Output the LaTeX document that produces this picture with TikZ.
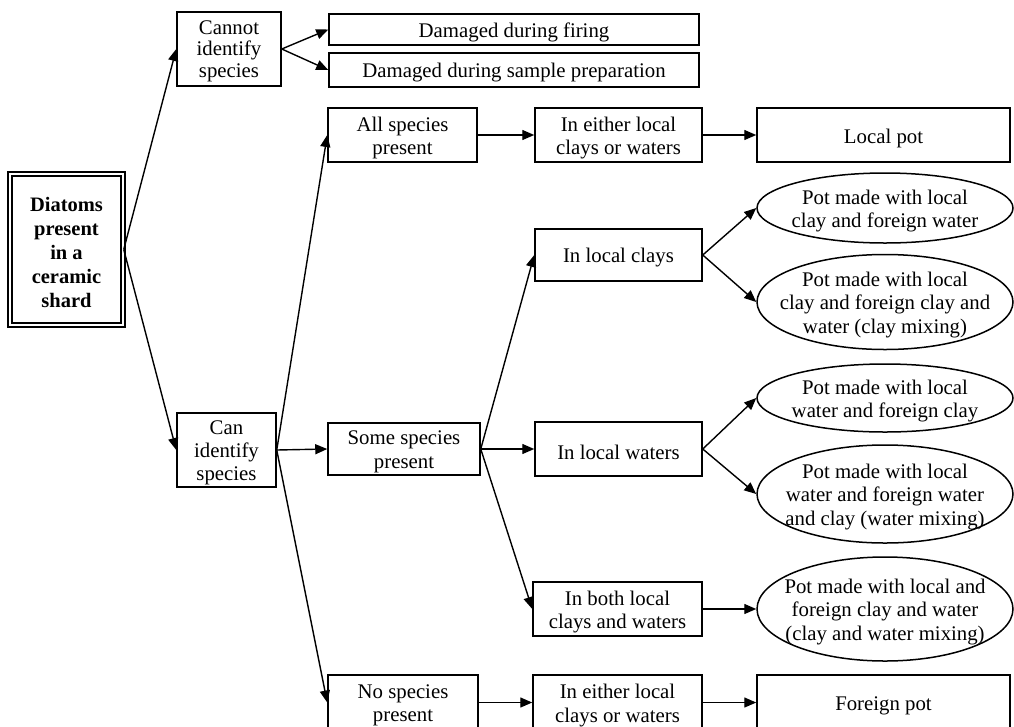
\documentclass[tikz,border=0pt]{standalone}
\usepackage{fontspec}
\setmainfont{Liberation Serif}
\usetikzlibrary{arrows.meta,shapes.geometric}
\begin{document}
\begin{tikzpicture}[x=1pt,y=-1pt,
  txt/.style={inner sep=0pt, align=center, yshift=-3pt, font=\fontsize{20.8}{23.5}\selectfont},
  box/.style={draw, line width=1.5pt, inner sep=0pt},
  oval/.style={draw, ellipse, line width=1.5pt, inner sep=0pt, minimum width=256pt},
  arr/.style={line width=1.4pt, -{Triangle[length=12pt,width=10pt]}}]
\clip (0,0) rectangle (1014,726);
\fill[white] (0,0) rectangle (1014,726);

% root
\node[box, double, double distance=2.2pt, minimum width=113pt, minimum height=151pt] (root) at (66.5,249.5) {};
\node[txt, font=\fontsize{20.5}{24}\selectfont\bfseries] at (root) {Diatoms\\present\\in a\\ceramic\\shard};

% first level
\node[box, minimum width=104pt, minimum height=74pt] (cannot) at (229,49) {};
\node[txt, yshift=1pt, font=\fontsize{20.8}{21.5}\selectfont] at (cannot) {Cannot\\identify\\species};
\node[box, minimum width=99pt, minimum height=74pt] (can) at (226.5,450) {};
\node[txt, font=\fontsize{20.8}{23}\selectfont] at (can) {Can\\identify\\species};

% damaged
\node[box, minimum width=370pt, minimum height=31pt] (fire) at (514,29.5) {};
\node[txt] at (fire) {Damaged during firing};
\node[box, minimum width=370pt, minimum height=34pt] (prep) at (514,70) {};
\node[txt] at (prep) {Damaged during sample preparation};

% species rows
\node[box, minimum width=149pt, minimum height=54pt] (all) at (402.5,135) {};
\node[txt] at (all) {All species\\present};
\node[box, minimum width=167pt, minimum height=54pt] (eitherA) at (618.5,135) {};
\node[txt] at (eitherA) {In either local\\clays or waters};
\node[box, minimum width=253pt, minimum height=54pt] (local) at (883.5,135) {};
\node[txt] at (local) {Local pot};

\node[box, minimum width=152pt, minimum height=52pt] (some) at (404,449) {};
\node[txt] at (some) {Some species\\present};
\node[box, minimum width=167pt, minimum height=52pt] (clays) at (618.5,255) {};
\node[txt] at (clays) {In local clays};
\node[box, minimum width=167pt, minimum height=54pt] (waters) at (618.5,449) {};
\node[txt] at (waters) {In local waters};
\node[box, minimum width=169pt, minimum height=54pt] (both) at (617.5,609) {};
\node[txt] at (both) {In both local\\clays and waters};

\node[box, minimum width=150pt, minimum height=55pt] (none) at (403,702.5) {};
\node[txt] at (none) {No species\\present};
\node[box, minimum width=169pt, minimum height=55pt] (eitherB) at (617.5,702.5) {};
\node[txt] at (eitherB) {In either local\\clays or waters};
\node[box, minimum width=253pt, minimum height=55pt] (foreign) at (883.5,702.5) {};
\node[txt] at (foreign) {Foreign pot};

% outcome ellipses
\node[oval, minimum height=70pt] (e1) at (885,208) {};
\node[txt] at (e1) {Pot made with local\\clay and foreign water};
\node[oval, minimum height=95pt] (e2) at (885,302) {};
\node[txt] at (e2) {Pot made with local\\clay and foreign clay and\\water (clay mixing)};
\node[oval, minimum height=68pt] (e3) at (885,398) {};
\node[txt] at (e3) {Pot made with local\\water and foreign clay};
\node[oval, minimum height=98pt] (e4) at (885,494) {};
\node[txt] at (e4) {Pot made with local\\water and foreign water\\and clay (water mixing)};
\node[oval, minimum height=104pt] (e5) at (885,609) {};
\node[txt] at (e5) {Pot made with local and\\foreign clay and water\\(clay and water mixing)};

% connectors
\draw[arr] (root.east) -- (cannot.west);
\draw[arr] (root.east) -- (can.west);
\draw[arr] (cannot.east) -- (fire.west);
\draw[arr] (cannot.east) -- (prep.west);
\draw[arr] (can.east) -- (all.west);
\draw[arr] (can.east) -- (some.west);
\draw[arr] (can.east) -- (none.west);
\draw[arr] (all.east) -- (eitherA.west);
\draw[arr] (eitherA.east) -- (local.west);
\draw[arr] (some.east) -- (clays.west);
\draw[arr] (some.east) -- (waters.west);
\draw[arr] (some.east) -- (both.west);
\draw[arr] (clays.east) -- (e1.west);
\draw[arr] (clays.east) -- (e2.west);
\draw[arr] (waters.east) -- (e3.west);
\draw[arr] (waters.east) -- (e4.west);
\draw[arr] (both.east) -- (e5.west);
\draw[arr] (none.east) -- (eitherB.west);
\draw[arr] (eitherB.east) -- (foreign.west);
\end{tikzpicture}
\end{document}
